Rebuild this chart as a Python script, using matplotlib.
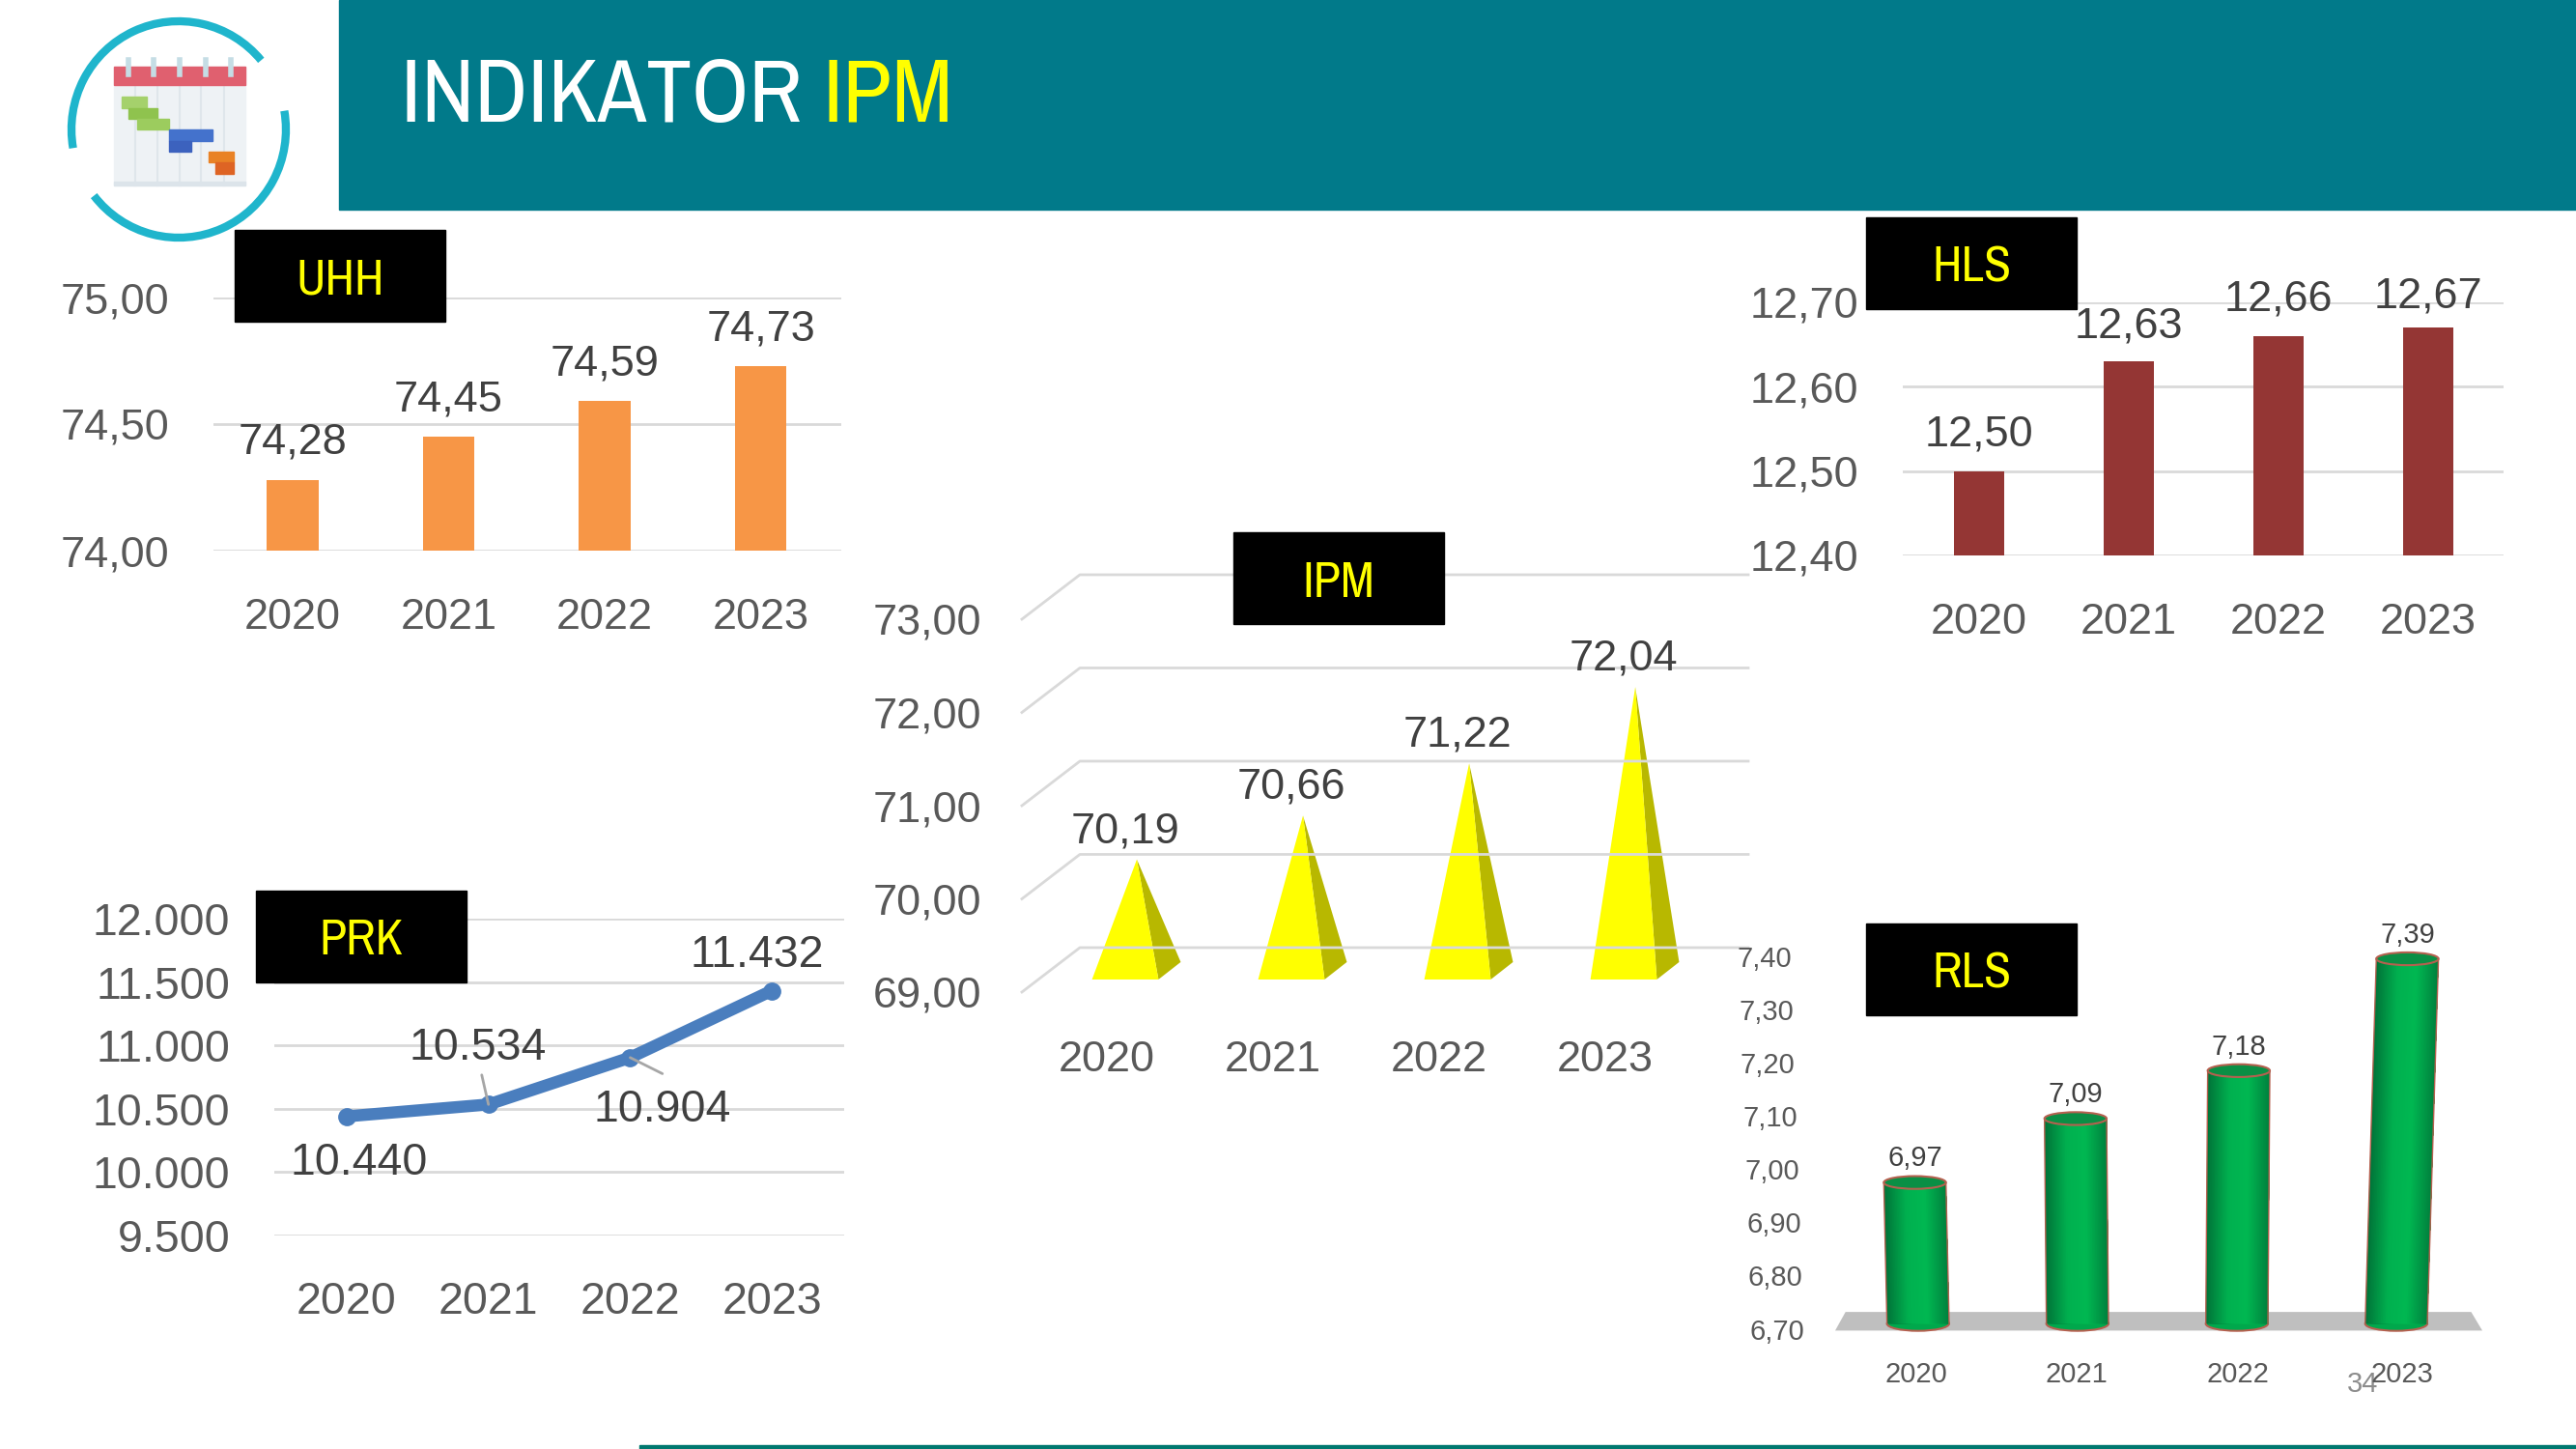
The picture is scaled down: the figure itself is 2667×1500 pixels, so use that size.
import matplotlib
matplotlib.use("Agg")
import matplotlib.pyplot as plt
from matplotlib import font_manager as fm
from matplotlib.patches import Polygon, Rectangle, Ellipse, Arc
import numpy as np

W, H = 2667, 1500
plt.rcParams['font.family'] = ['Liberation Sans']

years = ["2020", "2021", "2022", "2023"]
uhh = [74.28, 74.45, 74.59, 74.73]
uhh_ticks = [74, 74.5, 75]
hls = [12.50, 12.63, 12.66, 12.67]
hls_ticks = [12.4, 12.5, 12.6, 12.7]
prk = [10440, 10534, 10904, 11432]
prk_ticks = [9500, 10000, 10500, 11000, 11500, 12000]
ipm = [70.19, 70.66, 71.22, 72.04]
ipm_ticks = [69, 70, 71, 72, 73]
rls = [6.97, 7.09, 7.18, 7.39]
rls_ticks = [6.7, 6.8, 6.9, 7.0, 7.1, 7.2, 7.3, 7.4]

TEAL = "#017A8A"
GRID = "#D9D9D9"
TICK = "#595959"
LABEL = "#404040"

# a narrow face is closest to the slide font, use one if the machine has it
installed = {f.name for f in fm.fontManager.ttflist}
narrow = [n for n in installed if "Narrow" in n or "Condensed" in n]
if narrow:
    NARROW = [sorted(narrow)[0]]
    title_size, tag_size = 67, 37
else:
    NARROW = ['Liberation Sans']
    title_size, tag_size = 58, 31


def comma(v):
    return f"{v:.2f}".replace(".", ",")


def dotted(v):
    return f"{v:,}".replace(",", ".")


def add_ax(x0, y0, x1, y1, zorder=2):
    # rectangle given in pixels from the top left
    ax = fig.add_axes([x0 / W, 1 - y1 / H, (x1 - x0) / W, (y1 - y0) / H], zorder=zorder)
    ax.patch.set_alpha(0)
    for s in ax.spines.values():
        s.set_visible(False)
    return ax


def flat_style(ax, ticks, fmt, pad_y=33, pad_x=35, size=32.5):
    ax.set_yticks(ticks)
    ax.set_yticklabels([fmt(t) for t in ticks])
    ax.set_xticks(range(4))
    ax.set_xticklabels(years)
    ax.tick_params(length=0, labelsize=size, labelcolor=TICK)
    ax.tick_params(axis="y", pad=pad_y)
    ax.tick_params(axis="x", pad=pad_x)
    ax.grid(axis="y", color=GRID, lw=2)
    ax.set_axisbelow(True)


fig = plt.figure(figsize=(W / 100, H / 100), dpi=100, facecolor="white")

# header, logo and other slide furniture
bg = add_ax(0, 0, W, H, zorder=1)
bg.set_xlim(0, W)
bg.set_ylim(H, 0)
bg.axis("off")
bg.add_patch(Rectangle((351, 0), W - 351, 217, color=TEAL))
bg.add_patch(Rectangle((662, 1496), W - 662, 4, color="#00786F"))
t = bg.text(415, 126, "INDIKATOR ", color="white", fontsize=title_size, family=NARROW, va="baseline")
bg.annotate("IPM", xy=(1, 0), xycoords=t, color="#FFFF00", fontsize=title_size, family=NARROW,
            va="bottom", ha="left", annotation_clip=False)
bg.text(2446, 1433, "34", color="#8C8C8C", fontsize=21, ha="center", va="center")

bg.add_patch(Rectangle((118, 69), 136, 123, color="#EEF2F5", zorder=1))
for x in [140, 163, 186, 208, 232]:
    bg.plot([x, x], [88, 192], color="#DFE6EB", lw=1.5, zorder=1.5)
bg.add_patch(Rectangle((118, 188), 136, 4, color="#DCE4EA", zorder=2))
bg.add_patch(Rectangle((118, 69), 136, 19, color="#E0606F", zorder=2))
for x in [133, 159, 186, 213, 239]:
    bg.plot([x, x], [62, 77], color="#C5DDE5", lw=4, zorder=3)
for x0, y0, w, h, c in [(126, 100, 26, 12, "#A5D16C"), (133, 112, 30, 11, "#8FC34E"),
                        (142, 123, 33, 11, "#9CCC5E"), (175, 134, 45, 12, "#4472CC"),
                        (175, 146, 23, 11, "#3C62BE"), (216, 157, 26, 11, "#E98225"),
                        (223, 168, 19, 12, "#DE6424")]:
    bg.add_patch(Rectangle((x0, y0), w, h, color=c, zorder=3))
# y axis is flipped here, so the arc angles run clockwise
bg.add_patch(Arc((185, 134), 222, 224, theta1=-190, theta2=-40, color="#1FB5CC", lw=6))
bg.add_patch(Arc((185, 134), 222, 224, theta1=-10, theta2=142, color="#1FB5CC", lw=6))

# UHH
ax = add_ax(221, 308, 871, 570)
flat_style(ax, uhh_ticks, comma)
ax.bar(range(4), uhh, width=0.33, color="#F79646")
ax.set_xlim(-0.508, 3.517)
ax.set_ylim(74, 75)
for i, v in enumerate(uhh):
    ax.annotate(comma(v), (i, v), xytext=(0, 27.5), textcoords="offset points", ha="center",
                va="center", fontsize=32.5, color=LABEL)

# HLS
ax = add_ax(1970, 313, 2592, 575)
flat_style(ax, hls_ticks, comma)
ax.bar(range(4), hls, width=0.33, color="#943634")
ax.set_xlim(-0.51, 3.503)
ax.set_ylim(12.4, 12.7)
hls_offset = [27, 26, 27, 23]
for i, v in enumerate(hls):
    ax.annotate(comma(v), (i, v), xytext=(0, hls_offset[i]), textcoords="offset points",
                ha="center", va="center", fontsize=32.5, color=LABEL)

# PRK
ax = add_ax(284, 951, 874, 1279)
flat_style(ax, prk_ticks, dotted, pad_y=33, pad_x=34, size=33.5)
ax.plot(range(4), prk, color="#4A7EBE", lw=9, marker="o", ms=12.5, clip_on=False,
        solid_capstyle="round")
ax.set_xlim(-0.511, 3.51)
ax.set_ylim(9500, 12000)
prk_offset = [(9, -35), (-8, 42), (24, -39), (-11, 26)]
for i, v in enumerate(prk):
    ax.annotate(dotted(v), (i, v), xytext=prk_offset[i], textcoords="offset points",
                ha="center", va="center", fontsize=33.5, color=LABEL)
ax.annotate("", (1, prk[1]), xytext=(-5, 22), textcoords="offset points",
            arrowprops=dict(arrowstyle="-", color="#A6A6A6", lw=2, shrinkA=0, shrinkB=0))
ax.annotate("", (2, prk[2]), xytext=(24, -12), textcoords="offset points",
            arrowprops=dict(arrowstyle="-", color="#A6A6A6", lw=2, shrinkA=0, shrinkB=0))

# IPM, drawn on the front plane of a fake 3D box
ax = add_ax(1058, 641, 1810, 1027)
xl, xr = -0.512, 3.860
ax.set_xlim(xl, xr)
ax.set_ylim(69, 73)
ax.set_yticks(ipm_ticks)
ax.set_yticklabels([comma(t) for t in ipm_ticks])
ax.set_xticks(range(4))
ax.set_xticklabels(years)
ax.tick_params(length=0, labelsize=32.5, labelcolor=TICK)
ax.tick_params(axis="y", pad=30)
ax.tick_params(axis="x", pad=36)
for v in ipm_ticks:
    ax.plot([xl, xl + 0.349, xr], [v, v + 0.477, v + 0.477], color=GRID, lw=2, clip_on=False)
for i, v in enumerate(ipm):
    xc = i + 0.11
    base = 69.135
    tip = (xc + 0.07, v + 0.233)
    ax.add_patch(Polygon([(xc + 0.2, base), (xc + 0.334, base + 0.187), tip], color="#B8B800",
                         lw=0, clip_on=False))
    ax.add_patch(Polygon([(xc - 0.2, base), (xc + 0.2, base), tip], color="#FFFF00", lw=0,
                         clip_on=False))
    ax.text(xc, v + 0.233 + 0.30, comma(v), ha="center", va="center", fontsize=32.5, color=LABEL)

# RLS, cylinders on a grey floor
ax = add_ax(1900, 987, 2570, 1373)
ax.axis("off")
ax.set_xlim(-0.52, 3.54)
ax.set_ylim(6.7, 7.4)
ax.add_patch(Polygon([(-0.52, 6.692), (3.54, 6.692), (3.47, 6.727), (-0.455, 6.727)],
                     color="#BFBFBF", lw=0, clip_on=False))
lean = [-0.02, -0.012, 0.012, 0.07]
half = 0.195
shades = [(0.0, 0.45, 0.22), (0.0, 0.69, 0.31), (0.0, 0.72, 0.32), (0.0, 0.5, 0.24)]
stops = [0, 0.35, 0.65, 1]
for i, v in enumerate(rls):
    edges = np.linspace(-half, half, 41)
    ax.add_patch(Ellipse((i, 6.705), 2 * half, 0.027, fc="#00A84C", ec="#B5604F", lw=1.5,
                         clip_on=False))
    # each strip runs to the right edge and the next one paints over it, so no seams show
    for k in range(len(edges) - 1):
        f = (k + 0.5) / (len(edges) - 1)
        col = [np.interp(f, stops, [s[c] for s in shades]) for c in range(3)]
        ax.add_patch(Polygon([(i + edges[k], 6.705), (i + half, 6.705),
                              (i + lean[i] + half, v), (i + lean[i] + edges[k], v)],
                             color=col, lw=0, clip_on=False))
    ax.plot([i - half, i + lean[i] - half], [6.705, v], color="#B5604F", lw=1)
    ax.plot([i + half, i + lean[i] + half], [6.705, v], color="#B5604F", lw=1)
    ax.add_patch(Ellipse((i + lean[i], v), 2 * half, 0.024, fc="#0A8F45", ec="#B5604F", lw=1.5,
                         clip_on=False))
    ax.text(i + lean[i], v + 0.045, comma(v), ha="center", va="center", fontsize=21, color=LABEL)
    ax.text(i + lean[i] * 0.5, 6.61, years[i], ha="center", va="center", fontsize=21, color=TICK)
for v in rls_ticks:
    # axis labels lean with the perspective of the chart
    ax.text(-0.71 - (v - 6.7) * 0.12, v - 0.01, comma(v), ha="right", va="center", fontsize=21,
            color=TICK, clip_on=False)

# black name tags sit on top of the charts
top = add_ax(0, 0, W, H, zorder=5)
top.set_xlim(0, W)
top.set_ylim(H, 0)
top.axis("off")
tags = ["UHH", "HLS", "IPM", "PRK", "RLS"]
tag_x = [243, 1932, 1277, 265, 1932]
tag_y = [238, 225, 551, 922, 956]
for name, x, y in zip(tags, tag_x, tag_y):
    top.add_patch(Rectangle((x, y), 218, 95, color="black"))
    top.text(x + 109, y + 52, name, color="#FFFF00", fontsize=tag_size, family=NARROW, ha="center",
             va="center", fontweight="bold")

fig.savefig("out.png", dpi=100)
